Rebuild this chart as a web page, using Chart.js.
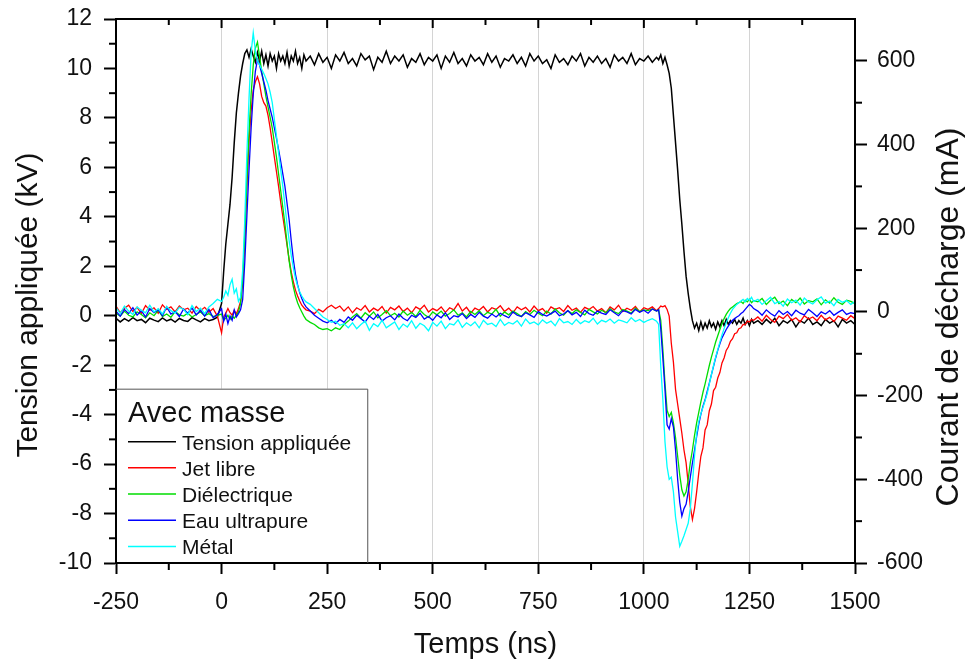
<!DOCTYPE html>
<html lang="fr">
<head>
<meta charset="UTF-8">
<title>Avec masse - tension et courant</title>
<script src="https://cdn.jsdelivr.net/npm/chart.js"></script>
<style>
    body { margin: 0; background: #fff; }
    #wrap { width: 965px; height: 666px; }
</style>
</head>
<body>
<div id="wrap"><canvas id="chart" width="965" height="666"></canvas></div>
<script>
// time base (ns), finer around the edges of the pulse
const timeNs = [
    -250,-240,-230,-220,-210,-200,-190,-180,-170,-160,-150,-140,-130,-120,-110,-100,-90,-80,-70,-60,-50,-40,-30,-20,-10,
    0,5,10,15,20,25,30,35,40,45,50,55,60,65,70,75,80,85,90,95,100,105,110,115,120,125,130,135,140,145,150,155,160,165,170,175,180,185,190,195,200,
    210,220,230,240,250,260,270,280,290,300,310,320,330,340,350,360,370,380,390,400,410,420,430,440,450,460,470,480,490,500,
    510,520,530,540,550,560,570,580,590,600,610,620,630,640,650,660,670,680,690,700,710,720,730,740,750,760,770,780,790,800,
    810,820,830,840,850,860,870,880,890,900,910,920,930,940,950,960,970,980,990,1000,1010,1020,1030,
    1035,1040,1045,1050,1055,1060,1065,1070,1075,1080,1085,1090,1095,1100,1105,1110,1115,1120,1125,1130,1135,1140,1145,1150,1155,
    1160,1165,1170,1175,1180,1185,1190,1195,1200,1205,1210,1215,1220,1225,1230,1235,1240,1245,1250,1255,1260,
    1270,1280,1290,1300,1310,1320,1330,1340,1350,1360,1370,1380,1390,1400,1410,1420,1430,1440,1450,1460,1470,1480,1490,1500
];

// applied voltage (kV, left axis)
const tensionKV = [
    -0.10,-0.25,-0.12,-0.22,-0.08,-0.20,-0.15,-0.28,-0.10,-0.18,-0.24,-0.09,-0.21,-0.14,-0.26,-0.11,-0.19,-0.23,-0.08,-0.17,-0.25,-0.12,-0.20,-0.15,-0.06,
    0.5,1.8,2.9,3.7,4.5,5.6,7.0,8.2,9.0,9.7,10.2,10.6,10.75,10.45,10.8,10.5,10.25,10.65,10.3,10.7,10.2,10.55,10.1,10.6,10.3,10.5,10.0,10.6,10.3,10.5,10.2,10.65,10.1,10.5,10.3,10.7,10.2,10.45,10.0,10.55,10.3,
    10.5,10.15,10.6,10.25,10.45,10.0,10.55,10.3,10.65,10.2,
    10.4,10.1,10.6,10.35,10.5,9.95,10.45,10.25,10.7,10.2,
    10.5,10.3,10.55,10.05,10.4,10.25,10.6,10.15,10.45,10.3,
    10.55,10.0,10.5,10.25,10.65,10.2,10.4,10.1,10.55,10.3,
    10.45,10.15,10.6,10.25,10.5,10.05,10.4,10.3,10.55,10.2,
    10.45,10.1,10.6,10.3,10.5,10.2,10.35,10.0,10.55,10.25,
    10.4,10.15,10.5,10.3,10.6,10.1,10.45,10.25,10.5,10.2,
    10.4,10.05,10.55,10.3,10.45,10.2,10.6,10.15,10.4,10.3,
    10.5,10.25,10.45,
    10.35,10.55,10.2,10.45,10.15,9.8,9.2,8.1,7.0,5.9,4.7,3.7,2.6,1.6,0.9,0.3,-0.2,-0.5,-0.3,-0.6,-0.25,-0.55,-0.3,-0.5,-0.2,
    -0.45,-0.3,-0.55,-0.25,-0.45,-0.2,-0.4,-0.15,-0.35,-0.2,-0.3,-0.15,-0.35,-0.2,-0.3,-0.1,-0.35,-0.2,-0.4,-0.15,-0.3,
    -0.2,-0.35,-0.15,-0.3,-0.1,-0.4,-0.2,-0.3,-0.15,-0.45,-0.2,-0.3,-0.1,-0.35,-0.25,-0.4,-0.15,-0.3,-0.2,-0.45,-0.15,-0.3,-0.2,-0.35
];

// discharge currents (mA, right axis)
const jetLibre = [
    14,-2,9,16,1,11,-4,15,4,10,-3,17,6,12,0,14,5,9,-3,13,3,11,-1,8,-10,
    -50,-12,-3,8,-2,-8,4,-5,8,25,70,170,300,410,480,530,550,562,545,515,500,492,470,440,405,370,335,300,262,228,195,160,125,95,72,52,38,26,16,10,5,
    2,-4,6,0,10,16,8,14,2,12,
    -2,10,4,15,0,9,3,13,-3,11,
    5,14,1,9,-2,12,6,16,0,8,
    3,12,-1,10,5,20,2,11,-3,9,
    4,13,0,10,6,15,1,9,-2,12,
    5,11,0,14,3,8,-3,12,6,10,
    1,15,4,9,-1,11,6,13,2,8,
    -2,12,5,16,1,9,4,13,0,10,
    6,12,3,
    8,14,12,15,6,-10,-75,-120,-185,-220,-255,-290,-330,-360,-410,-465,-496,-470,-430,-385,-345,-325,-282,-270,-236,
    -220,-188,-180,-158,-145,-122,-110,-92,-84,-70,-64,-52,-50,-40,-38,-30,-30,-22,-24,-18,-20,
    -12,-22,-8,-18,-25,-10,-16,-6,-20,-14,-24,-9,-17,-12,-21,-8,-19,-13,-23,-10,-15,-20,-9,-16
];

const dielectrique = [
    -3,-10,2,-8,-12,0,-6,-14,-2,-9,4,-11,-5,-13,1,-7,-10,-3,-12,-6,0,-9,-4,-11,-8,
    -5,-20,-15,-8,-18,-10,-15,-8,0,20,80,190,320,430,520,590,630,645,610,575,545,515,490,465,440,405,370,330,290,250,210,165,122,88,60,38,22,10,0,-10,-18,
    -25,-30,-38,-42,-40,-45,-38,-42,-30,-22,
    -12,-4,-15,-2,-10,0,-14,-6,3,-9,
    -3,-12,2,-8,-1,-11,4,-6,-13,0,
    -7,2,-10,-4,5,-8,-2,-12,1,-6,
    3,-9,-1,-5,6,-10,0,-7,2,-4,
    -11,1,-6,4,-3,-9,2,-5,7,-2,
    -8,3,-4,5,-1,-7,6,0,-5,4,
    -2,8,0,-4,6,2,-3,9,1,5,
    3,7,2,
    5,-20,-90,-170,-235,-250,-240,-265,-300,-345,-390,-425,-440,-430,-400,-360,-330,-295,-265,-240,-215,-192,-172,-150,-128,
    -108,-90,-72,-57,-42,-28,-16,-6,2,8,12,16,20,22,25,20,28,24,30,22,27,
    24,32,18,28,35,20,26,15,30,22,33,19,27,24,31,17,29,21,34,23,18,28,25,20
];

const eauUltrapure = [
    2,-10,6,-4,10,-8,3,-12,8,-2,5,-9,12,-5,1,-11,7,-3,9,-7,4,-10,6,-14,-6,
    8,-22,-5,-28,-10,-20,5,-12,-4,5,30,120,230,340,440,520,575,603,590,570,550,530,505,485,465,440,415,388,360,330,300,260,220,170,125,90,65,46,32,20,12,
    2,-8,-15,-22,-26,-20,-28,-18,-25,-12,
    -20,-8,-16,-24,-10,-18,-6,-22,-14,-9,
    -19,-5,-15,-21,-8,-13,-3,-17,-11,-20,
    -7,-14,-2,-18,-9,-12,-4,-16,-6,-13,
    -1,-10,-15,-5,-12,-3,-9,-14,0,-8,
    -11,-2,-7,-13,1,-6,-10,-4,2,-9,
    -5,3,-7,-1,-11,4,-4,-8,2,-3,
    -6,5,-2,-9,3,0,-5,6,-1,4,
    -3,7,2,
    5,-40,-110,-185,-270,-280,-255,-275,-330,-400,-455,-488,-470,-460,-430,-395,-361,-330,-298,-268,-245,-225,-210,-190,-170,
    -150,-130,-110,-92,-76,-62,-52,-42,-34,-26,-20,-16,-12,-9,-4,0,6,12,18,14,8,
    2,-8,5,-4,-10,3,-6,1,-9,4,-3,-7,6,-2,-11,0,-5,3,-8,-1,5,-6,-2,-4
];

const metal = [
    10,-4,14,2,-6,12,4,-2,16,0,8,-5,13,3,-3,11,6,-7,15,1,9,-4,12,20,30,
    25,35,50,40,65,78,45,55,25,35,100,220,380,510,620,667,625,600,590,580,570,558,545,525,500,460,420,380,340,300,255,210,170,135,105,80,62,48,38,30,24,
    18,8,-2,-12,-18,-25,-22,-32,-28,-38,
    -26,-40,-30,-22,-44,-28,-35,-20,-38,-31,
    -24,-42,-29,-36,-21,-39,-27,-33,-45,-25,
    -34,-22,-40,-28,-31,-19,-37,-26,-33,-24,
    -38,-20,-30,-27,-35,-18,-32,-25,-29,-21,
    -34,-17,-28,-24,-31,-19,-27,-22,-33,-16,
    -26,-23,-30,-18,-28,-21,-25,-15,-29,-20,
    -24,-17,-27,-19,-22,-26,-14,-23,-18,-25,
    -20,-16,-22,
    -30,-130,-210,-310,-370,-400,-395,-430,-490,-525,-560,-548,-535,-520,-505,-470,-410,-345,-290,-262,-243,-228,-212,-195,-172,
    -150,-128,-108,-90,-72,-55,-40,-26,-14,-3,6,12,18,22,26,30,24,32,28,35,25,
    30,18,27,35,20,25,14,31,22,28,16,33,24,19,29,36,21,26,15,30,23,27,18,25
];

// ticks
const xTicks = [-250, 0, 250, 500, 750, 1000, 1250, 1500];
const xMinor = [-125, 125, 375, 625, 875, 1125, 1375];
const kvTicks = [-10, -8, -6, -4, -2, 0, 2, 4, 6, 8, 10, 12];
const kvMinor = [-9, -7, -5, -3, -1, 1, 3, 5, 7, 9, 11];
const maTicks = [-600, -400, -200, 0, 200, 400, 600];
const maMinor = [-500, -300, -100, 100, 300, 500];

const legendTitle = 'Avec masse';
const FONT = '"Liberation Sans", Arial, Helvetica, sans-serif';

function toPoints(values) {
    return timeNs.map((t, i) => ({ x: t, y: values[i] }));
}

function series(label, values, color, axis, order) {
    return {
        label: label,
        data: toPoints(values),
        borderColor: color,
        backgroundColor: color,
        borderWidth: axis === 'y' ? 1.5 : 1.3,
        pointRadius: 0,
        tension: 0,
        yAxisID: axis,
        order: order
    };
}

// keep the plot box where the original has it
function noEdgePadding(s) {
    s.paddingTop = 0;
    s.paddingBottom = 0;
    s.paddingLeft = 0;
    s.paddingRight = 0;
}

// frame, minor ticks, inner legend and vertical titles
const framePlugin = {
    id: 'framePlugin',
    afterDraw(chart) {
        const { ctx, chartArea: a, scales } = chart;
        const sx = scales.x, yl = scales.y, yr = scales.y1;
        const seg = (x1, y1, x2, y2) => {
            ctx.beginPath(); ctx.moveTo(x1, y1); ctx.lineTo(x2, y2); ctx.stroke();
        };
        ctx.save();
        ctx.strokeStyle = '#000';
        ctx.lineWidth = 2;
        seg(a.left - 1, a.top, a.right + 1, a.top);
        xTicks.forEach(v => { const p = sx.getPixelForValue(v); seg(p, a.top, p, a.top + 9); });
        xMinor.forEach(v => {
            const p = sx.getPixelForValue(v);
            seg(p, a.top, p, a.top + 6);
            seg(p, a.bottom, p, a.bottom + 7);
        });
        kvMinor.forEach(v => { const p = yl.getPixelForValue(v); seg(a.left - 7, p, a.left, p); });
        maMinor.forEach(v => { const p = yr.getPixelForValue(v); seg(a.right, p, a.right + 7, p); });

        // legend box
        const lx0 = a.left, lx1 = sx.getPixelForValue(345);
        const ly0 = yl.getPixelForValue(-2.95), ly1 = a.bottom;
        ctx.fillStyle = '#fff';
        ctx.fillRect(lx0 + 1, ly0, lx1 - lx0 - 1, ly1 - ly0 - 1);
        ctx.strokeStyle = '#555';
        ctx.lineWidth = 1;
        ctx.beginPath();
        ctx.moveTo(lx0, ly0 + 0.5); ctx.lineTo(lx1 + 0.5, ly0 + 0.5); ctx.lineTo(lx1 + 0.5, ly1);
        ctx.stroke();
        ctx.fillStyle = '#111';
        ctx.textAlign = 'left';
        ctx.textBaseline = 'alphabetic';
        ctx.font = '29px ' + FONT;
        ctx.fillText(legendTitle, lx0 + 12, ly0 + 33);
        ctx.font = '21px ' + FONT;
        chart.data.datasets.forEach((ds, i) => {
            const cy = ly0 + 53 + i * 26.2;
            ctx.strokeStyle = ds.borderColor;
            ctx.lineWidth = 1.5;
            seg(lx0 + 12, cy, lx0 + 60, cy);
            ctx.fillText(ds.label, lx0 + 66, cy + 8);
        });

        // vertical axis titles, both reading upwards
        ctx.textAlign = 'center';
        ctx.textBaseline = 'middle';
        ctx.save();
        ctx.translate(29, 305);
        ctx.rotate(-Math.PI / 2);
        ctx.font = '30px ' + FONT;
        ctx.fillText('Tension appliquée (kV)', 0, 0);
        ctx.restore();
        ctx.save();
        ctx.translate(chart.width - 16, 317);
        ctx.rotate(-Math.PI / 2);
        ctx.font = '32px ' + FONT;
        ctx.fillText('Courant de décharge (mA)', 0, 0);
        ctx.restore();
        ctx.restore();
    }
};

Chart.defaults.font.family = FONT;
Chart.defaults.color = '#111';

new Chart(document.getElementById('chart'), {
    type: 'line',
    data: {
        datasets: [
            series('Tension appliquée', tensionKV, '#000000', 'y', 5),
            series('Jet libre', jetLibre, '#ff0000', 'y1', 4),
            series('Diélectrique', dielectrique, '#00dd00', 'y1', 3),
            series('Eau ultrapure', eauUltrapure, '#0000ff', 'y1', 2),
            series('Métal', metal, '#00ffff', 'y1', 1)
        ]
    },
    options: {
        responsive: false,
        animation: false,
        layout: { padding: { top: 19, left: 0, right: 0, bottom: 0 } },
        plugins: { legend: { display: false }, tooltip: { enabled: false } },
        scales: {
            x: {
                type: 'linear',
                min: -250,
                max: 1500,
                afterBuildTicks: s => { s.ticks = xTicks.map(v => ({ value: v })); },
                afterFit: s => { s.height = 103; noEdgePadding(s); },
                ticks: { font: { size: 23 }, padding: 15, maxRotation: 0, color: '#111', callback: v => String(v) },
                grid: {
                    color: c => (c.tick && (c.tick.value === -250 || c.tick.value === 1500)) ? 'rgba(0,0,0,0)' : '#d4d4d4',
                    lineWidth: 1,
                    tickColor: '#000',
                    tickLength: 11,
                    tickWidth: 2
                },
                border: { color: '#000', width: 2, z: 1 },
                title: { display: true, text: 'Temps (ns)', font: { size: 29 }, padding: { bottom: 4, top: 0 }, color: '#111' }
            },
            y: {
                position: 'left',
                min: -10,
                max: 12,
                afterBuildTicks: s => { s.ticks = kvTicks.map(v => ({ value: v })); },
                afterFit: s => { s.width = 116; noEdgePadding(s); },
                ticks: { font: { size: 23 }, padding: 12, color: '#111', callback: v => String(v) },
                grid: { drawOnChartArea: false, tickColor: '#000', tickLength: 12, tickWidth: 2 },
                border: { color: '#000', width: 2, z: 1 }
            },
            y1: {
                position: 'right',
                min: -600,
                max: 700,
                afterBuildTicks: s => { s.ticks = maTicks.map(v => ({ value: v })); },
                afterFit: s => { s.width = 110; noEdgePadding(s); },
                ticks: { font: { size: 23 }, padding: 10, color: '#111', callback: v => String(v) },
                grid: { drawOnChartArea: false, tickColor: '#000', tickLength: 12, tickWidth: 2 },
                border: { color: '#000', width: 2, z: 1 }
            }
        }
    },
    plugins: [framePlugin]
});
</script>
</body>
</html>
